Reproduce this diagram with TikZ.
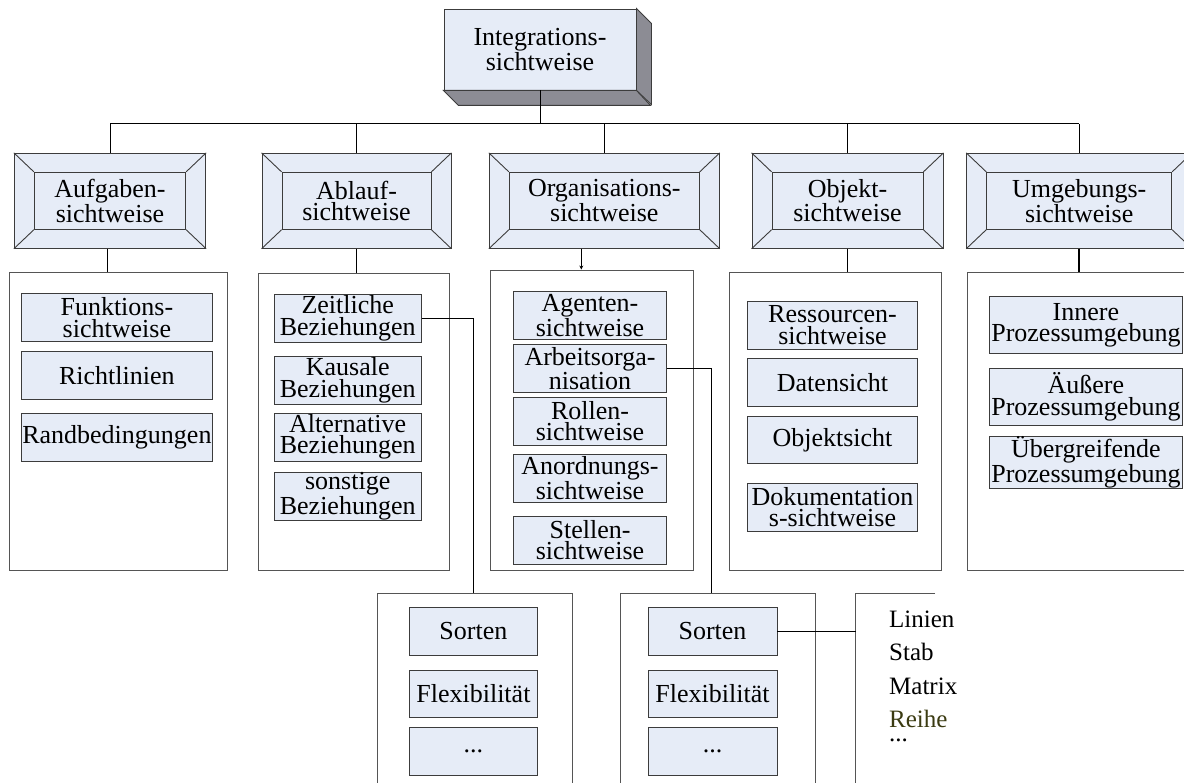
\documentclass[tikz,border=0pt]{standalone}
\usepackage{fontspec}
\setmainfont{Liberation Serif}
\usetikzlibrary{arrows.meta}
\definecolor{boxfill}{HTML}{E6ECF7}
\definecolor{sidegray}{HTML}{8C8C94}
\definecolor{edge}{HTML}{3C3C3C}
\definecolor{framegray}{HTML}{555555}
\definecolor{olivetext}{HTML}{3B3B12}

\newcommand{\txt}{\fontsize{26}{21.5}\selectfont}

% bevelled heading box: name, cx, cy, width, height, text
\newcommand{\bevelbox}[6]{%
  \node[bevel, minimum width=#4pt, minimum height=#5pt] (#1) at (#2,#3) {};
  \node[bevel, minimum width={#4pt-40pt}, minimum height={#5pt-38pt},
        align=center, font=\txt] (#1i) at (#2,#3) {#6};
  \draw[bevelline] (#1.north west) -- (#1i.north west)
                   (#1.north east) -- (#1i.north east)
                   (#1.south west) -- (#1i.south west)
                   (#1.south east) -- (#1i.south east);
}

\begin{document}
\begin{tikzpicture}[x=1pt,y=-1pt,
  item/.style={draw=edge, fill=boxfill, line width=0.9pt, inner sep=0pt,
               align=center, font=\txt},
  column/.style={draw=framegray, line width=0.9pt, fill=white, inner sep=0pt},
  bevel/.style={draw=edge, fill=boxfill, line width=0.9pt, inner sep=0pt},
  bevelline/.style={draw=edge, line width=0.9pt},
  link/.style={draw=black, line width=1pt},
  listtext/.style={anchor=base west, inner sep=0pt, font=\fontsize{25}{25}\selectfont}
]
\useasboundingbox (0,0) rectangle (1184,783);

% ---------- top box with 3D sides ----------
\node[bevel, minimum width=192pt, minimum height=81pt, align=center,
      font=\fontsize{26}{19}\selectfont] (integ) at (540,49.5)
      {Integrations-\\sichtweise};
\draw[bevel, fill=sidegray] (integ.north east) -- ++(15,15) -- ++(0,81)
      -- (integ.south east) -- cycle;
\draw[bevel, fill=sidegray] (integ.south west) -- ++(15,15) -- ++(192,0)
      -- (integ.south east) -- cycle;

% ---------- second row ----------
\bevelbox{aufg}{110}{200.8}{191.4}{95}{Aufgaben-\\sichtweise}
\bevelbox{abl}{356.5}{200.8}{189}{95}{Ablauf-\\sichtweise}
\bevelbox{org}{604.3}{200.8}{230}{95}{Organisations-\\sichtweise}
\bevelbox{obj}{847.5}{200.8}{191}{95}{Objekt-\\sichtweise}
\bevelbox{umg}{1079.2}{200.8}{225}{95}{Umgebungs-\\sichtweise}

% bus
\coordinate (bus) at (0,124);
\draw[link] (integ.south) -- (integ.south |- bus);
\draw[link] (aufg.north |- bus) -- (umg.north |- bus);
\foreach \n in {aufg,abl,org,obj,umg}
  \draw[link] (\n.north) -- (\n.north |- bus);

% ---------- columns ----------
\node[column, minimum width=218.4pt, minimum height=297.3pt] (c1) at (118.5,421.3) {};
\node[column, minimum width=191pt,   minimum height=297pt]   (c2) at (353.8,421.5) {};
\node[column, minimum width=203.3pt, minimum height=300pt]   (c3) at (591.7,420) {};
\node[column, minimum width=212.7pt, minimum height=297.3pt] (c4) at (835.3,421.3) {};
\node[column, minimum width=222.7pt, minimum height=297.3pt] (c5) at (1078.7,421.3) {};

\draw[link] ([xshift=-3pt]aufg.south) -- ([xshift=-3pt]aufg.south |- c1.north);
\draw[link] (abl.south) -- (abl.south |- c2.north);
\draw[link, -{Stealth[length=4pt,width=4pt]}] ([xshift=-23pt]org.south)
      -- ([xshift=-23pt]org.south |- c3.north);
\draw[link, line width=1.6pt] (obj.south) -- (obj.south |- c4.north);
\draw[link, line width=1.6pt] (umg.south) -- (umg.south |- c5.north);

% Aufgaben items
\node[item, minimum width=191.7pt, minimum height=48.4pt] (f1) at (116.9,317.5) {Funktions-\\sichtweise};
\node[item, minimum width=191.7pt, minimum height=47.6pt] (f2) at (116.9,375.5) {Richtlinien};
\node[item, minimum width=191.7pt, minimum height=48.4pt] (f3) at (116.9,437.5) {Randbedingungen};

% Ablauf items
\node[item, minimum width=146.7pt, minimum height=48pt] (a1) at (347.7,318.2) {Zeitliche\\Beziehungen};
\node[item, minimum width=146.7pt, minimum height=48pt] (a2) at (347.7,380.2) {Kausale\\Beziehungen};
\node[item, minimum width=146.7pt, minimum height=48pt] (a3) at (347.7,437) {Alternative\\Beziehungen};
\node[item, minimum width=146.7pt, minimum height=48pt] (a4) at (347.7,496) {sonstige\\Beziehungen};

% Organisation items
\node[item, minimum width=153.4pt, minimum height=47.6pt] (o1) at (590,315.5) {Agenten-\\sichtweise};
\node[item, minimum width=153.4pt, minimum height=48pt] (o2) at (590,368.3) {Arbeitsorga-\\nisation};
\node[item, minimum width=153.4pt, minimum height=47.7pt] (o3) at (590,421.2) {Rollen-\\sichtweise};
\node[item, minimum width=153.4pt, minimum height=48pt] (o4) at (590,478.3) {Anordnungs-\\sichtweise};
\node[item, minimum width=153.4pt, minimum height=48.3pt] (o5) at (590,540.2) {Stellen-\\sichtweise};

% Objekt items
\node[item, minimum width=170.4pt, minimum height=48.3pt] (b1) at (832.5,325.2) {Ressourcen-\\sichtweise};
\node[item, minimum width=170.4pt, minimum height=48pt] (b2) at (832.5,382.7) {Datensicht};
\node[item, minimum width=170.4pt, minimum height=47.3pt] (b3) at (832.5,440.3) {Objektsicht};
\node[item, minimum width=170.4pt, minimum height=47.7pt] (b4) at (832.5,507.2) {Dokumentation\\s-sichtweise};

% Umgebung items
\node[item, minimum width=193.7pt, minimum height=57.3pt] (u1) at (1085.9,325.3) {Innere\\Prozessumgebung};
\node[item, minimum width=193.7pt, minimum height=57.4pt] (u2) at (1085.9,397) {Äußere\\Prozessumgebung};
\node[item, minimum width=193.7pt, minimum height=52.3pt] (u3) at (1085.9,462.2) {Übergreifende\\Prozessumgebung};

% ---------- bottom boxes ----------
\node[column, minimum width=195.4pt, minimum height=207pt] (s1) at (475,696.5) {};
\node[column, minimum width=194.6pt, minimum height=207pt] (s2) at (717.9,696.5) {};

\node[item, minimum width=128.7pt, minimum height=47.3pt] (s1a) at (473.4,631.4) {Sorten};
\node[item, minimum width=128.7pt, minimum height=47.3pt] (s1b) at (473.4,693.7) {Flexibilität};
\node[item, minimum width=128.7pt, minimum height=47.3pt] (s1c) at (473.4,751.4) {...};

\node[item, minimum width=129pt, minimum height=47.3pt] (s2a) at (712.5,631.4) {Sorten};
\node[item, minimum width=129pt, minimum height=47.3pt] (s2b) at (712.5,693.7) {Flexibilität};
\node[item, minimum width=129pt, minimum height=47.3pt] (s2c) at (712.5,751.4) {...};

% detail links
\draw[link] (a1.east) -| ([xshift=-1.7pt]s1.north);
\draw[link] (o2.east) -| ([xshift=-6.2pt]s2.north);

% list bracket
\coordinate (brtop) at (855.7,593);
\coordinate (brend) at (935,593);
\coordinate (brbot) at (855.7,790);
\draw[link, draw=framegray] (brend) -- (brtop) -- (brbot);
\draw[link] (s2a.east) -- (s2a.east -| brtop);

\node[listtext] (l1) at (889,627.3) {Linien};
\node[listtext] (l2) at (889,660.7) {Stab};
\node[listtext] (l3) at (889,694) {Matrix};
\node[listtext, text=olivetext] (l4) at (889,727.7) {Reihe};
\node[listtext] (l5) at (889,741.7) {...};
\end{tikzpicture}
\end{document}
